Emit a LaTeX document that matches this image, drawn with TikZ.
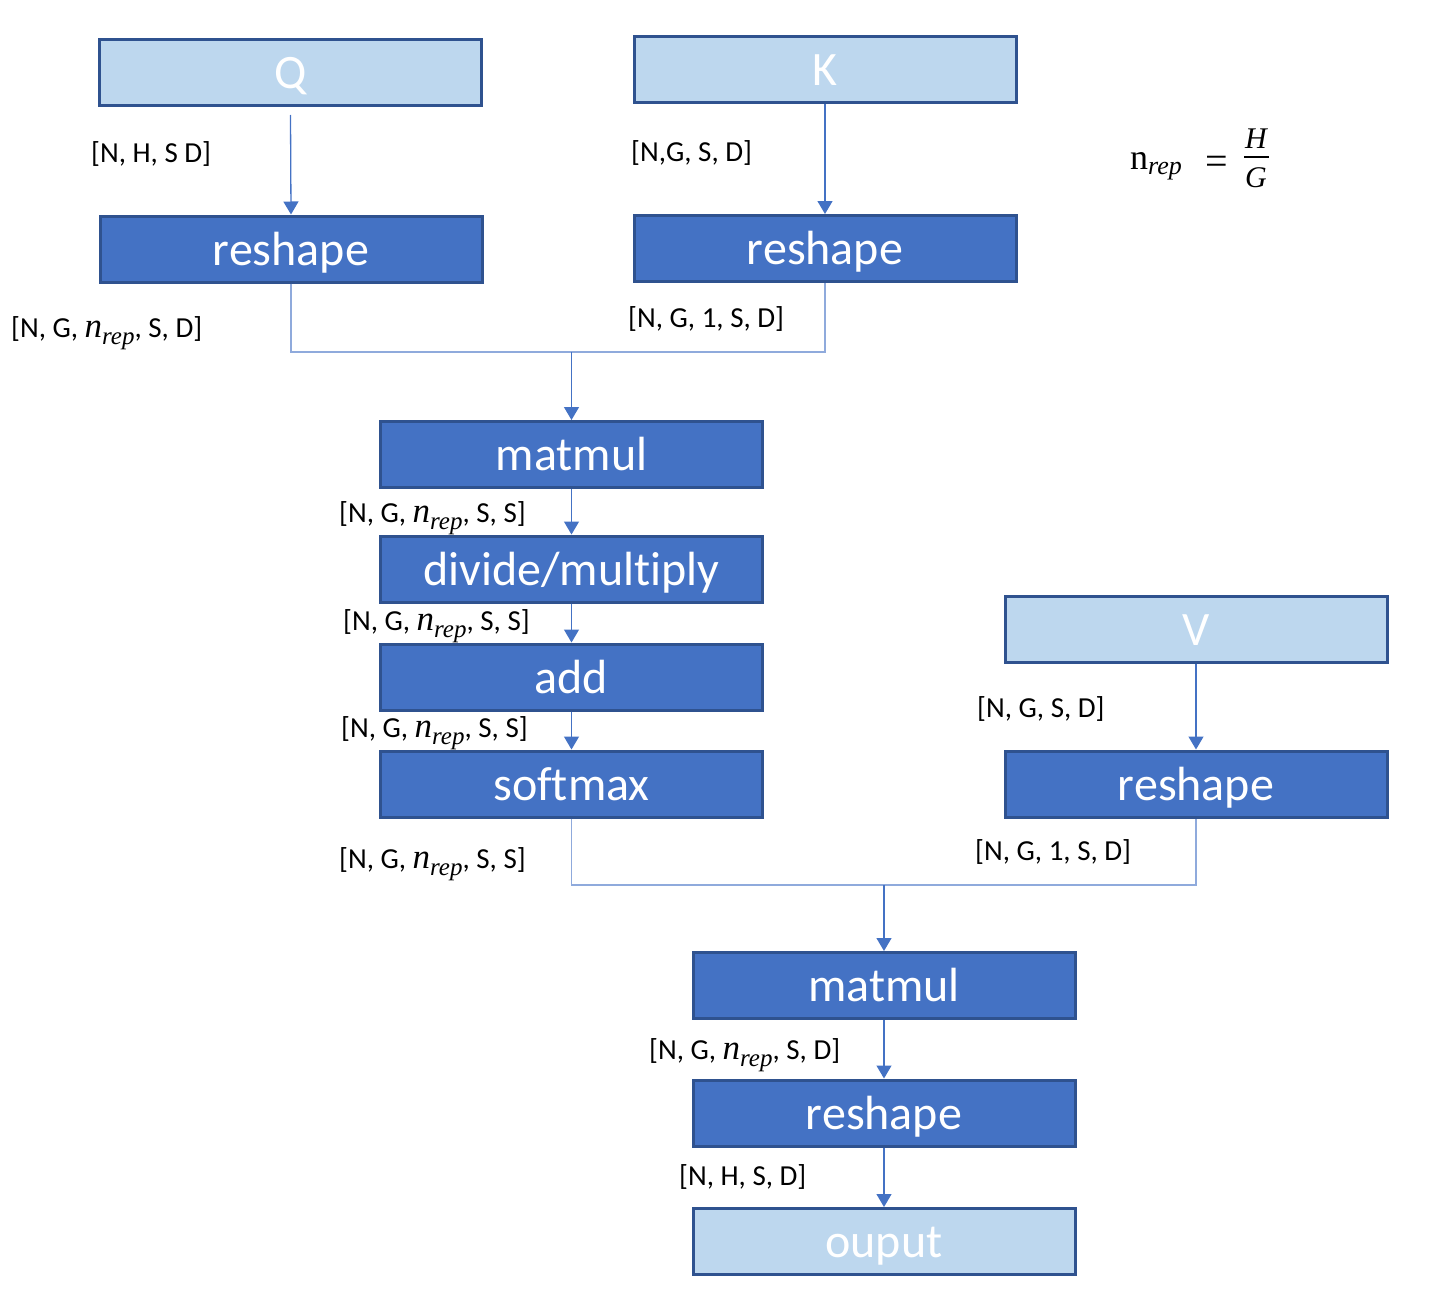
\documentclass[tikz,border=0pt]{standalone}
\usepackage{fontspec}
\setmainfont{Carlito}[Ligatures=NoCommon]
\newfontfamily\mathserif{Liberation Serif}
\usetikzlibrary{arrows.meta,calc}
\definecolor{boxdark}{HTML}{4472C4}
\definecolor{boxlight}{HTML}{BDD7EE}
\definecolor{boxline}{HTML}{2F528F}
\definecolor{conn}{HTML}{4472C4}
\definecolor{connlight}{HTML}{8FAADC}
\newcommand{\nrepsym}{{\mathserif\itshape\fontsize{35}{38}\selectfont n}\raisebox{-7pt}{\mathserif\itshape\fontsize{25}{28}\selectfont rep}}
\tikzset{
  opbox/.style={draw=boxline, line width=3pt, fill=boxdark, text=white,
    minimum width=382pt, minimum height=66pt, inner sep=0pt,
    text height=32pt, text depth=0pt, font=\fontsize{48}{54}\selectfont},
  iobox/.style={opbox, fill=boxlight},
  shapelbl/.style={anchor=base west, inner sep=0pt, font=\fontsize{29}{34}\selectfont},
  formula/.style={anchor=base west, inner sep=0pt, font=\mathserif\fontsize{30}{34}\selectfont},
  arr/.style={draw=conn, line width=1.3pt, -{Triangle[width=15pt,length=13pt]}},
  joinline/.style={draw=connlight, line width=1.3pt},
}
\begin{document}
\begin{tikzpicture}[x=1pt,y=-1pt]
\useasboundingbox (0,0) rectangle (1433,1295);
% boxes
\node[iobox] (Q) at (290.5,72.5) {Q};
\node[iobox] (K) at (825,70) {K};
\node[opbox] (rQ) at (291,249) {reshape};
\node[opbox] (rK) at (825,248.5) {reshape};
\node[opbox] (mm1) at (571.5,454.5) {matmul};
\node[opbox] (div) at (571.5,569) {divide/multiply};
\node[opbox] (add) at (571.5,677) {add};
\node[opbox] (sm) at (571.5,784) {softmax};
\node[iobox] (V) at (1196,629.5) {V};
\node[opbox] (rV) at (1196,784) {reshape};
\node[opbox] (mm2) at (884,985.5) {matmul};
\node[opbox] (r3) at (884,1113) {reshape};
\node[iobox] (out) at (884,1241.5) {ouput};
% junctions
\coordinate (j1) at (571.5,352);
\coordinate (j2) at (884,885);
\coordinate (qs) at (290.5,115);
% connectors
\draw[arr] (qs) -- (rQ.north);
\draw[arr] (K.south) -- (rK.north);
\draw[joinline] (rQ.south) |- (j1) -| (rK.south);
\draw[arr] (j1) -- (mm1.north);
\draw[arr] (mm1.south) -- (div.north);
\draw[arr] (div.south) -- (add.north);
\draw[arr] (add.south) -- (sm.north);
\draw[arr] (V.south) -- (rV.north);
\draw[joinline] (sm.south) |- (j2) -| (rV.south);
\draw[arr] (j2) -- (mm2.north);
\draw[arr] (mm2.south) -- (r3.north);
\draw[arr] (r3.south) -- (out.north);
% labels
\node[shapelbl] (l1) at (91,163) {[N, H, S D]};
\node[shapelbl] (l2) at (631,162) {[N,G, S, D]};
\node[shapelbl] (l3) at (11,337) {[N, G, \nrepsym, S, D]};
\node[shapelbl] (l4) at (628,327) {[N, G, 1, S, D]};
\node[shapelbl] (l5) at (339,522) {[N, G, \nrepsym, S, S]};
\node[shapelbl] (l6) at (343,630) {[N, G, \nrepsym, S, S]};
\node[shapelbl] (l7) at (341,737) {[N, G, \nrepsym, S, S]};
\node[shapelbl] (l8) at (339,868) {[N, G, \nrepsym, S, S]};
\node[shapelbl] (l9) at (977,717) {[N, G, S, D]};
\node[shapelbl] (l10) at (975,860) {[N, G, 1, S, D]};
\node[shapelbl] (l11) at (649,1059) {[N, G, \nrepsym, S, D]};
\node[shapelbl] (l12) at (679,1185) {[N, H, S, D]};
% formula
\node[formula] (fn) at (1130,170) {{\fontsize{36}{40}\selectfont n}\raisebox{-5pt}{\itshape\fontsize{26}{30}\selectfont rep}};
\node[formula] (feq) at (1205,175) {\fontsize{40}{44}\selectfont =};
\node[formula, anchor=base] (fH) at (1256,149) {\itshape H};
\node[formula, anchor=base] (fG) at (1256,188) {\itshape G};
\draw[line width=1.5pt] (1244,157) -- (1269,157);
\end{tikzpicture}
\end{document}
